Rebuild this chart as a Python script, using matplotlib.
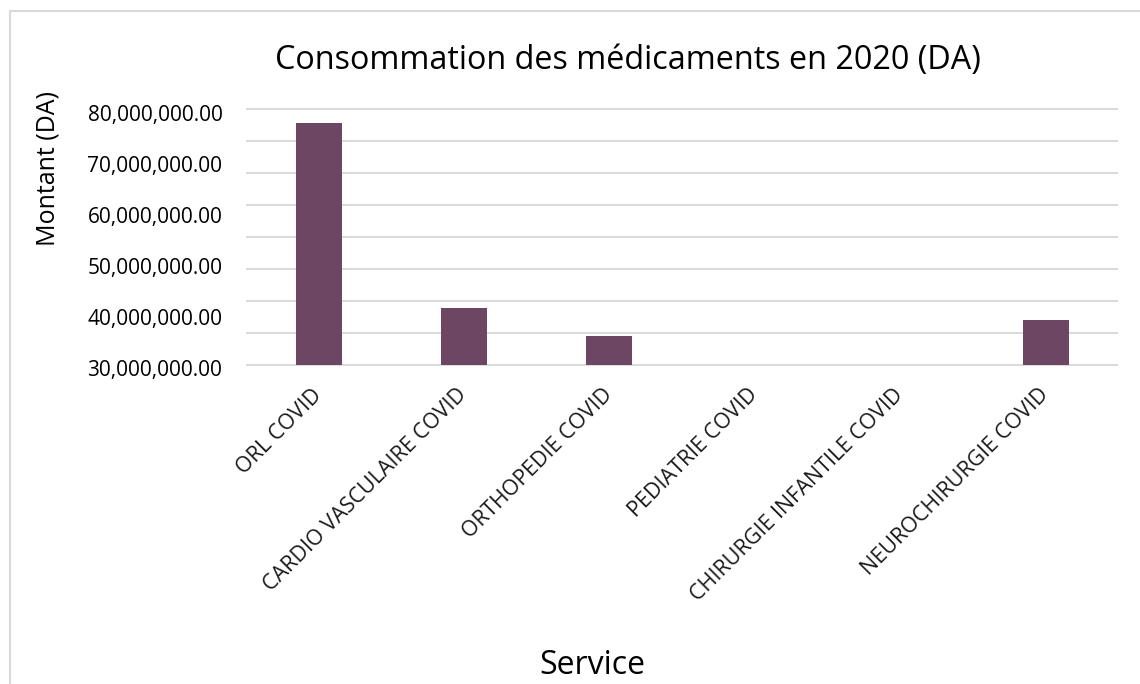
import numpy as np
import matplotlib
matplotlib.use("Agg")
import matplotlib.pyplot as plt
from matplotlib.patches import Rectangle
from matplotlib.ticker import FuncFormatter

plt.rcParams['font.family'] = ['Open Sans', 'DejaVu Sans']

services = ["ORL COVID", "CARDIO VASCULAIRE COVID", "ORTHOPEDIE COVID",
            "PEDIATRIE COVID", "CHIRURGIE INFANTILE COVID", "NEUROCHIRURGIE COVID"]
montants = [75.6e6, 17.7e6, 9.0e6, 0.0, 0.0, 14.1e6]
grid_values = np.arange(0, 80e6 + 1, 10e6)
label_values = np.arange(30e6, 80e6 + 1, 10e6)

bar_color = "#6C4663"
grid_color = "#D9D9D9"

fig = plt.figure(figsize=(11.4, 6.84), dpi=100)
ax = fig.add_axes([246 / 1140, 1 - 369.8 / 684, (1118.3 - 246) / 1140, (369.8 - 107.7) / 684])

x = np.arange(len(services))
ax.bar(x, montants, width=0.316, color=bar_color, zorder=3)
ax.set_xlim(-0.5, len(services) - 0.5)
ax.set_ylim(-1.5e6, 80.4e6)

ax.set_yticks(grid_values)
ax.set_yticklabels([])
ax.yaxis.grid(True, color=grid_color, linewidth=1.4, zorder=0)
ax.tick_params(axis="y", length=0)
ax.set_xticks(x)
ax.set_xticklabels(services, rotation=45, ha="right", va="center",
                   rotation_mode="anchor", fontsize=15.5, color="#1a1a1a")
ax.tick_params(axis="x", length=0, pad=16)
for s in ax.spines.values():
    s.set_visible(False)

# the value labels of the original are spaced differently from the gridlines
ax2 = ax.twinx()
ax2.set_ylim(29.65e6, 81.04e6)
ax2.set_yticks(label_values)
ax2.yaxis.set_major_formatter(FuncFormatter(lambda v, p: f"{v:,.2f}"))
ax2.tick_params(axis="y", left=True, labelleft=True, right=False, labelright=False,
                length=0, pad=17, labelsize=15)
for s in ax2.spines.values():
    s.set_visible(False)

fig.text(628 / 1140, 1 - 60 / 684, "Consommation des médicaments en 2020 (DA)",
         ha="center", va="center", fontsize=23.3)
fig.text(48 / 1140, 1 - 169 / 684, "Montant (DA)", rotation=90,
         ha="center", va="center", fontsize=18)
fig.text(592 / 1140, 1 - 665 / 684, "Service", ha="center", va="center", fontsize=23)

fig.add_artist(Rectangle((10 / 1140, -0.1), 1.2, 1.1 - 11 / 684, transform=fig.transFigure,
                         fill=False, edgecolor=grid_color, linewidth=1.5))

fig.savefig("out.png", dpi=100)
